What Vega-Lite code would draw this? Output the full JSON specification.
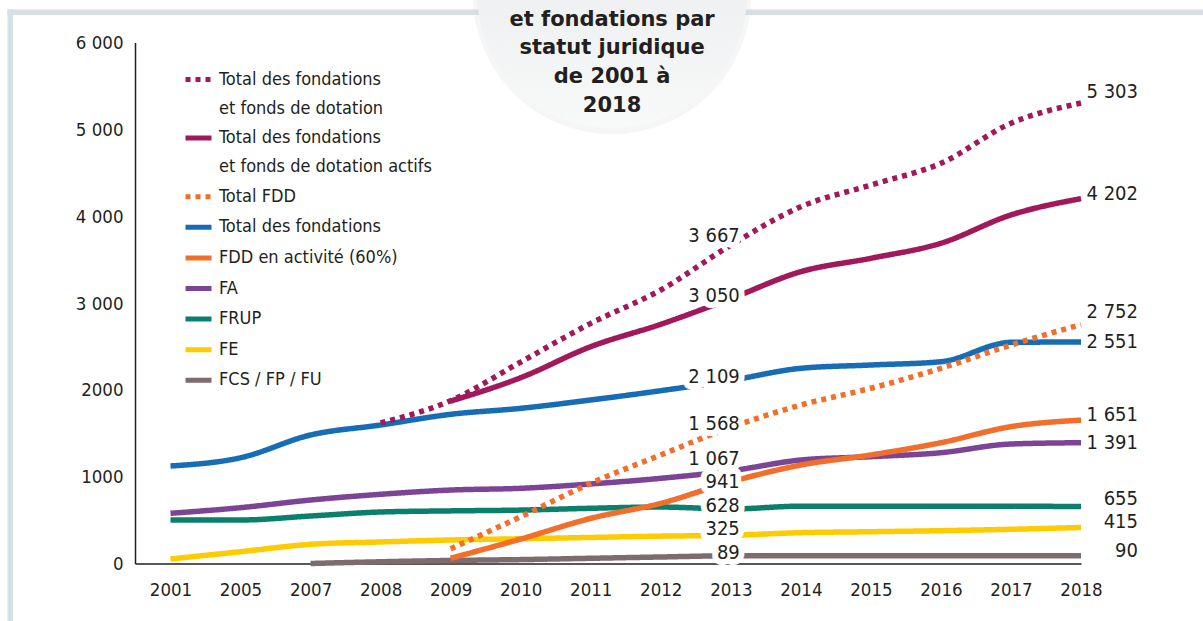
{
  "$schema": "https://vega.github.io/schema/vega-lite/v6.json",
  "width": 946,
  "height": 521,
  "autosize": {"type": "none"},
  "padding": {"left": 135, "top": 42.5, "right": 122, "bottom": 57.5},
  "background": "white",
  "config": {
    "view": {"stroke": null},
    "locale": {"number": {"decimal": ",", "thousands": " ", "grouping": [3], "currency": ["", " €"]}},
    "axis": {"labelFont": "DejaVu Sans Condensed, DejaVu Sans, sans-serif", "labelColor": "#231f20", "grid": false},
    "legend": {"labelFont": "DejaVu Sans Condensed, DejaVu Sans, sans-serif"}
  },
  "datasets": {
    "series": [
      {"year": 2007, "series": "FCS / FP / FU", "value": 0},
      {"year": 2008, "series": "FCS / FP / FU", "value": 20},
      {"year": 2009, "series": "FCS / FP / FU", "value": 35},
      {"year": 2010, "series": "FCS / FP / FU", "value": 45},
      {"year": 2011, "series": "FCS / FP / FU", "value": 60},
      {"year": 2012, "series": "FCS / FP / FU", "value": 75},
      {"year": 2013, "series": "FCS / FP / FU", "value": 89},
      {"year": 2014, "series": "FCS / FP / FU", "value": 90},
      {"year": 2015, "series": "FCS / FP / FU", "value": 90},
      {"year": 2016, "series": "FCS / FP / FU", "value": 90},
      {"year": 2017, "series": "FCS / FP / FU", "value": 90},
      {"year": 2018, "series": "FCS / FP / FU", "value": 90},
      {"year": 2001, "series": "FE", "value": 52},
      {"year": 2005, "series": "FE", "value": 136},
      {"year": 2007, "series": "FE", "value": 221},
      {"year": 2008, "series": "FE", "value": 248},
      {"year": 2009, "series": "FE", "value": 271},
      {"year": 2010, "series": "FE", "value": 285},
      {"year": 2011, "series": "FE", "value": 300},
      {"year": 2012, "series": "FE", "value": 315},
      {"year": 2013, "series": "FE", "value": 325},
      {"year": 2014, "series": "FE", "value": 355},
      {"year": 2015, "series": "FE", "value": 366},
      {"year": 2016, "series": "FE", "value": 378},
      {"year": 2017, "series": "FE", "value": 394},
      {"year": 2018, "series": "FE", "value": 415},
      {"year": 2001, "series": "FRUP", "value": 501},
      {"year": 2005, "series": "FRUP", "value": 501},
      {"year": 2007, "series": "FRUP", "value": 547},
      {"year": 2008, "series": "FRUP", "value": 593},
      {"year": 2009, "series": "FRUP", "value": 606},
      {"year": 2010, "series": "FRUP", "value": 615},
      {"year": 2011, "series": "FRUP", "value": 636},
      {"year": 2012, "series": "FRUP", "value": 650},
      {"year": 2013, "series": "FRUP", "value": 628},
      {"year": 2014, "series": "FRUP", "value": 660},
      {"year": 2015, "series": "FRUP", "value": 660},
      {"year": 2016, "series": "FRUP", "value": 660},
      {"year": 2017, "series": "FRUP", "value": 660},
      {"year": 2018, "series": "FRUP", "value": 655},
      {"year": 2001, "series": "FA", "value": 578},
      {"year": 2005, "series": "FA", "value": 643},
      {"year": 2007, "series": "FA", "value": 731},
      {"year": 2008, "series": "FA", "value": 797},
      {"year": 2009, "series": "FA", "value": 846},
      {"year": 2010, "series": "FA", "value": 866},
      {"year": 2011, "series": "FA", "value": 916},
      {"year": 2012, "series": "FA", "value": 981},
      {"year": 2013, "series": "FA", "value": 1067},
      {"year": 2014, "series": "FA", "value": 1192},
      {"year": 2015, "series": "FA", "value": 1230},
      {"year": 2016, "series": "FA", "value": 1276},
      {"year": 2017, "series": "FA", "value": 1376},
      {"year": 2018, "series": "FA", "value": 1391},
      {"year": 2001, "series": "Total des fondations", "value": 1123},
      {"year": 2005, "series": "Total des fondations", "value": 1218},
      {"year": 2007, "series": "Total des fondations", "value": 1480},
      {"year": 2008, "series": "Total des fondations", "value": 1595},
      {"year": 2009, "series": "Total des fondations", "value": 1718},
      {"year": 2010, "series": "Total des fondations", "value": 1787},
      {"year": 2011, "series": "Total des fondations", "value": 1883},
      {"year": 2012, "series": "Total des fondations", "value": 1990},
      {"year": 2013, "series": "Total des fondations", "value": 2109},
      {"year": 2014, "series": "Total des fondations", "value": 2248},
      {"year": 2015, "series": "Total des fondations", "value": 2286},
      {"year": 2016, "series": "Total des fondations", "value": 2324},
      {"year": 2017, "series": "Total des fondations", "value": 2547},
      {"year": 2018, "series": "Total des fondations", "value": 2551},
      {"year": 2009, "series": "Total des fondations et fonds de dotation actifs", "value": 1870},
      {"year": 2010, "series": "Total des fondations et fonds de dotation actifs", "value": 2140},
      {"year": 2011, "series": "Total des fondations et fonds de dotation actifs", "value": 2497},
      {"year": 2012, "series": "Total des fondations et fonds de dotation actifs", "value": 2755},
      {"year": 2013, "series": "Total des fondations et fonds de dotation actifs", "value": 3050},
      {"year": 2014, "series": "Total des fondations et fonds de dotation actifs", "value": 3361},
      {"year": 2015, "series": "Total des fondations et fonds de dotation actifs", "value": 3515},
      {"year": 2016, "series": "Total des fondations et fonds de dotation actifs", "value": 3688},
      {"year": 2017, "series": "Total des fondations et fonds de dotation actifs", "value": 4014},
      {"year": 2018, "series": "Total des fondations et fonds de dotation actifs", "value": 4202},
      {"year": 2008, "series": "Total des fondations et fonds de dotation", "value": 1620},
      {"year": 2009, "series": "Total des fondations et fonds de dotation", "value": 1875},
      {"year": 2010, "series": "Total des fondations et fonds de dotation", "value": 2320},
      {"year": 2011, "series": "Total des fondations et fonds de dotation", "value": 2766},
      {"year": 2012, "series": "Total des fondations et fonds de dotation", "value": 3150},
      {"year": 2013, "series": "Total des fondations et fonds de dotation", "value": 3667},
      {"year": 2014, "series": "Total des fondations et fonds de dotation", "value": 4109},
      {"year": 2015, "series": "Total des fondations et fonds de dotation", "value": 4359},
      {"year": 2016, "series": "Total des fondations et fonds de dotation", "value": 4609},
      {"year": 2017, "series": "Total des fondations et fonds de dotation", "value": 5070},
      {"year": 2018, "series": "Total des fondations et fonds de dotation", "value": 5303},
      {"year": 2009, "series": "FDD en activité (60%)", "value": 60},
      {"year": 2010, "series": "FDD en activité (60%)", "value": 282},
      {"year": 2011, "series": "FDD en activité (60%)", "value": 520},
      {"year": 2012, "series": "FDD en activité (60%)", "value": 693},
      {"year": 2013, "series": "FDD en activité (60%)", "value": 941},
      {"year": 2014, "series": "FDD en activité (60%)", "value": 1134},
      {"year": 2015, "series": "FDD en activité (60%)", "value": 1250},
      {"year": 2016, "series": "FDD en activité (60%)", "value": 1391},
      {"year": 2017, "series": "FDD en activité (60%)", "value": 1576},
      {"year": 2018, "series": "FDD en activité (60%)", "value": 1651},
      {"year": 2009, "series": "Total FDD", "value": 170},
      {"year": 2010, "series": "Total FDD", "value": 539},
      {"year": 2011, "series": "Total FDD", "value": 924},
      {"year": 2012, "series": "Total FDD", "value": 1250},
      {"year": 2013, "series": "Total FDD", "value": 1568},
      {"year": 2014, "series": "Total FDD", "value": 1825},
      {"year": 2015, "series": "Total FDD", "value": 2018},
      {"year": 2016, "series": "Total FDD", "value": 2248},
      {"year": 2017, "series": "Total FDD", "value": 2516},
      {"year": 2018, "series": "Total FDD", "value": 2752}
    ]
  },
  "layer": [
    {
      "data": {"values": [{"k": "badge"}]},
      "encoding": {
        "x": {"datum": "badge", "type": "ordinal",
          "scale": {"type": "point", "range": [-128, 1068], "align": 0.5059},
          "axis": {"orient": "top", "offset": 30.75, "domainColor": "#d6e0e5", "domainWidth": 5.5, "labels": false, "ticks": false, "title": null}},
        "y": {"datum": "badge", "type": "ordinal",
          "scale": {"type": "point", "range": [-33.5, 578.5], "align": 0},
          "axis": {"orient": "left", "offset": 125.25, "domainColor": "#d6e0e5", "domainWidth": 5.5, "labels": false, "ticks": false, "title": null}}
      },
      "layer": [
        {"mark": {"type": "point", "shape": "circle", "filled": true, "size": 77500, "fill": "#d4d4d4", "opacity": 0.22, "strokeWidth": 0, "yOffset": -14}},
        {"mark": {"type": "point", "shape": "circle", "filled": true, "size": 73000, "opacity": 1, "strokeWidth": 0, "yOffset": -16,
          "fill": {"gradient": "linear", "x1": 0, "y1": 0, "x2": 0, "y2": 1, "stops": [{"offset": 0, "color": "#e4e7e9"}, {"offset": 1, "color": "#f8f9f9"}]}}},
        {"mark": {"type": "text", "text": ["et fondations par", "statut juridique", "de 2001 à", "2018"], "align": "center", "baseline": "alphabetic", "dy": 16.5, "lineHeight": 28.8, "font": "DejaVu Sans", "fontWeight": "bold", "fontSize": 21, "fill": "#231f20"}}
      ]
    },
    {
      "data": {"name": "series"},
      "encoding": {
        "x": {"field": "year", "type": "ordinal",
          "scale": {"type": "point", "padding": 0.2534, "align": 1},
          "axis": {"orient": "bottom", "title": null, "labelAngle": 0, "ticks": false, "tickSize": 0, "labelPadding": 17, "labelFontSize": 18.5, "domainColor": "#231f20", "domainWidth": 1.5}},
        "y": {"field": "value", "type": "quantitative",
          "scale": {"domain": [0, 6000], "nice": false},
          "axis": {"orient": "left", "title": null, "values": [0, 1000, 2000, 3000, 4000, 5000, 6000], "ticks": false, "tickSize": 0, "labelPadding": 12, "labelFontSize": 18.5, "domainColor": "#231f20", "domainWidth": 1.5,
            "labelExpr": "datum.value >= 3000 ? (datum.value / 1000) + ' 000' : '' + datum.value"}}
      },
      "layer": [
        {
          "mark": {"type": "line", "strokeWidth": 5.5, "interpolate": "monotone", "strokeCap": "butt"},
          "encoding": {
            "color": {"field": "series", "type": "nominal",
              "scale": {"domain": ["Total des fondations et fonds de dotation", "Total des fondations et fonds de dotation actifs", "Total FDD", "Total des fondations", "FDD en activité (60%)", "FA", "FRUP", "FE", "FCS / FP / FU"],
                "range": ["#a1195b", "#a1195b", "#f26f2b", "#176db5", "#f26f2b", "#7c4496", "#0a7f6b", "#fecb00", "#7e6b6e"]},
              "legend": {"orient": "none", "legendX": 48, "legendY": 21.5, "title": null, "padding": 0,
                "symbolType": "stroke", "symbolStrokeWidth": 5, "symbolSize": 676, "labelFontSize": 18, "labelColor": "#231f20",
                "labelOffset": 5, "rowPadding": 4.6, "labelLimit": 400,
                "labelExpr": "datum.value == 'Total des fondations et fonds de dotation' ? ['Total des fondations', 'et fonds de dotation'] : datum.value == 'Total des fondations et fonds de dotation actifs' ? ['Total des fondations', 'et fonds de dotation actifs'] : datum.label",
                "encode": {"labels": {"update": {"lineHeight": {"value": 29}}}}}},
            "strokeDash": {"field": "series", "type": "nominal",
              "scale": {"domain": ["Total des fondations et fonds de dotation", "Total des fondations et fonds de dotation actifs", "Total FDD", "Total des fondations", "FDD en activité (60%)", "FA", "FRUP", "FE", "FCS / FP / FU"],
                "range": [[5, 5], [1, 0], [5, 5], [1, 0], [1, 0], [1, 0], [1, 0], [1, 0], [1, 0]]},
              "legend": {"orient": "none", "legendX": 48, "legendY": 21.5, "title": null}}
          }
        },
        {
          "transform": [{"filter": "datum.year == 2013"}],
          "mark": {"type": "text", "align": "right", "baseline": "middle", "dx": 9, "font": "DejaVu Sans Condensed, DejaVu Sans, sans-serif", "fontSize": 20, "fill": "white", "stroke": "white", "strokeWidth": 12, "strokeJoin": "round",
            "dy": {"expr": "datum.series == 'Total des fondations et fonds de dotation' ? -9 : datum.series == 'FA' ? -12 : datum.series == 'FE' ? -6 : datum.series == 'FDD en activité (60%)' ? 0 : -3"}},
          "encoding": {"text": {"field": "value", "type": "quantitative", "format": ",d"}}
        },
        {
          "transform": [{"filter": "datum.year == 2013"}],
          "mark": {"type": "text", "align": "right", "baseline": "middle", "dx": 9, "font": "DejaVu Sans Condensed, DejaVu Sans, sans-serif", "fontSize": 20, "fill": "#231f20",
            "dy": {"expr": "datum.series == 'Total des fondations et fonds de dotation' ? -9 : datum.series == 'FA' ? -12 : datum.series == 'FE' ? -6 : datum.series == 'FDD en activité (60%)' ? 0 : -3"}},
          "encoding": {"text": {"field": "value", "type": "quantitative", "format": ",d"}}
        },
        {
          "transform": [{"filter": "datum.year == 2018"}],
          "mark": {"type": "text", "align": "right", "baseline": "middle", "dx": 57, "font": "DejaVu Sans Condensed, DejaVu Sans, sans-serif", "fontSize": 20, "fill": "#231f20",
            "dy": {"expr": "datum.series == 'Total des fondations et fonds de dotation' ? -11 : datum.series == 'Total FDD' ? -13 : datum.series == 'FRUP' ? -8 : datum.series == 'Total des fondations' || datum.series == 'FA' ? 0 : -5"}},
          "encoding": {"text": {"field": "value", "type": "quantitative", "format": ",d"}}
        }
      ]
    }
  ],
  "resolve": {"scale": {"x": "independent", "y": "independent"}, "axis": {"x": "independent", "y": "independent"}}
}
